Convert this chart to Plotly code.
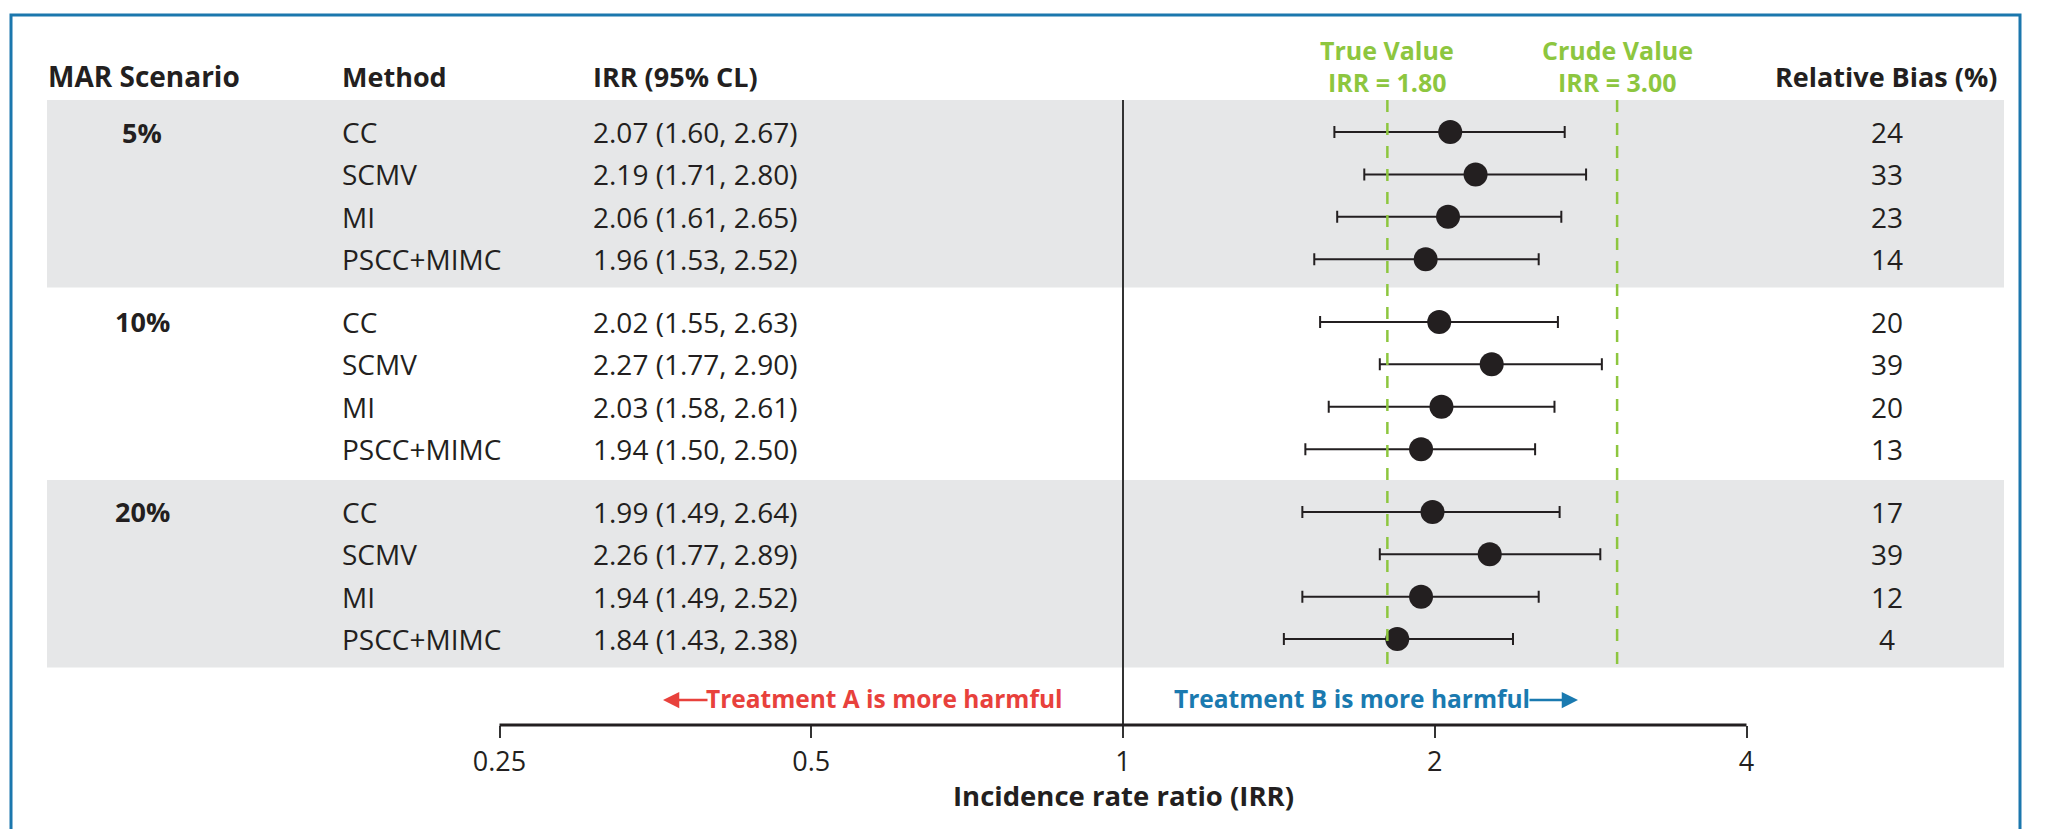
import plotly.graph_objects as go
import math

# ---------------- data ----------------
scenarios = ["5%", "10%", "20%"]
methods = ["CC", "SCMV", "MI", "PSCC+MIMC"]
irr_est = [2.07, 2.19, 2.06, 1.96, 2.02, 2.27, 2.03, 1.94, 1.99, 2.26, 1.94, 1.84]
irr_lo = [1.60, 1.71, 1.61, 1.53, 1.55, 1.77, 1.58, 1.50, 1.49, 1.77, 1.49, 1.43]
irr_hi = [2.67, 2.80, 2.65, 2.52, 2.63, 2.90, 2.61, 2.50, 2.64, 2.89, 2.52, 2.38]
rel_bias = [24, 33, 23, 14, 20, 39, 20, 13, 17, 39, 12, 4]
true_value = 1.80
crude_value = 3.00
tick_vals = [0.25, 0.5, 1, 2, 4]
tick_text = ["0.25", "0.5", "1", "2", "4"]

# ---------------- layout constants (page pixels) ----------------
PAGE_W, PAGE_H = 2065, 829
OFF = 8                      # default body margin of the html page
W, H = PAGE_W - OFF, PAGE_H - OFF
AXIS_PX = 725                # page y of the x-axis line (plot bottom)
PLOT_H = AXIS_PX - OFF
ROW0_PX, ROW_PX = 132, 42.4
GROUP_STEP = 4.48
FONT = "Open Sans"
INK = "#231f20"
GREEN = "#8dc63f"
RED = "#e8413c"
BLUE = "#1a7ab0"
FRAME = "#1b77ad"
BAND = "#e6e7e8"

# x axis: log scale, 0.25 -> page px 499.5, 4 -> page px 1746.5
S = 1247 / math.log10(16)
r0 = math.log10(0.25) - (499.5 - OFF) / S
r1 = r0 + W / S

y_top = (OFF - ROW0_PX) / ROW_PX
y_bot = (AXIS_PX - ROW0_PX) / ROW_PX


def ypx(p):
    return (p - ROW0_PX) / ROW_PX


def xp(px):
    return (px - OFF) / W


def yp(py):
    return (AXIS_PX - py) / PLOT_H


n_m = len(methods)
row_y = []
row_method = []
for g in range(len(scenarios)):
    for k in range(n_m):
        row_y.append(k + GROUP_STEP * g)
        row_method.append(methods[k])

fig = go.Figure()

fig.add_trace(go.Scatter(
    x=irr_est, y=row_y, mode="markers",
    marker=dict(symbol="circle", size=24, color=INK, line=dict(width=0)),
    error_x=dict(type="data", symmetric=False,
                 array=[h - e for h, e in zip(irr_hi, irr_est)],
                 arrayminus=[e - l for e, l in zip(irr_est, irr_lo)],
                 color=INK, thickness=2, width=6),
    showlegend=False, hoverinfo="skip",
))

shapes = []
band_top_off, band_bot_off = -0.755, 3.67
for g in (0, 2):
    s0 = GROUP_STEP * g
    shapes.append(dict(type="rect", xref="paper", yref="y",
                       x0=xp(47), x1=xp(2004), y0=s0 + band_top_off, y1=s0 + band_bot_off,
                       fillcolor=BAND, line=dict(width=0), layer="below"))
shapes.append(dict(type="line", xref="x", yref="y", x0=1, x1=1,
                   y0=band_top_off, y1=y_bot, line=dict(color="#333333", width=2)))
last_band_bottom = GROUP_STEP * 2 + band_bot_off
for v in (true_value, crude_value):
    shapes.append(dict(type="line", xref="x", yref="y", x0=v, x1=v,
                       y0=band_top_off, y1=last_band_bottom,
                       line=dict(color=GREEN, width=2.5, dash="12px,11px")))
shapes.append(dict(type="line", xref="x", yref="paper", x0=tick_vals[0], x1=tick_vals[-1],
                   y0=0, y1=0, line=dict(color=INK, width=3)))
fx0, fx1, fy0 = 11, 2020, 15
shapes.append(dict(type="path", xref="paper", yref="paper",
                   path=f"M {xp(fx0)},-0.3 L {xp(fx0)},{yp(fy0)} "
                        f"L {xp(fx1)},{yp(fy0)} L {xp(fx1)},-0.3",
                   line=dict(color=FRAME, width=3)))

ann = []


def txt(text, x, y, size=28, bold=False, color=INK, xanchor="left", xref="paper"):
    ann.append(dict(text=text, x=x, y=y, xref=xref, yref="y", showarrow=False,
                    xanchor=xanchor, yanchor="middle",
                    font=dict(family=FONT, size=size, color=color,
                              weight="bold" if bold else "normal")))


hy = ypx(76)
txt("MAR Scenario", xp(46), hy, size=28, bold=True)
txt("Method", xp(340), hy, size=27, bold=True)
txt("IRR (95% CL)", xp(591), hy, size=27, bold=True)
txt("Relative Bias (%)", xp(1999), hy, size=27, bold=True, xanchor="right")
for v, lab in ((true_value, "True Value"), (crude_value, "Crude Value")):
    txt(lab, math.log10(v), ypx(50), size=25, bold=True, color=GREEN, xanchor="center", xref="x")
    txt(f"IRR = {v:.2f}", math.log10(v), ypx(82), size=25, bold=True, color=GREEN,
        xanchor="center", xref="x")

for g, sc in enumerate(scenarios):
    txt(sc, xp(142), GROUP_STEP * g, size=27, bold=True, xanchor="center")
for i, y in enumerate(row_y):
    txt(row_method[i], xp(340), y)
    txt(f"{irr_est[i]:.2f} ({irr_lo[i]:.2f}, {irr_hi[i]:.2f})", xp(591), y)
    txt(str(rel_bias[i]), xp(1887), y, xanchor="center")

dy = ypx(698)
txt("Treatment A is more harmful", xp(1064), dy, size=24.5, bold=True, color=RED, xanchor="right")
txt("Treatment B is more harmful", xp(1172), dy, size=24.5, bold=True, color=BLUE, xanchor="left")
ann.append(dict(x=xp(663), y=ypx(700), xref="paper", yref="y", ax=46, ay=0, text="",
                showarrow=True, arrowhead=2, arrowsize=1.3, arrowwidth=2.5, arrowcolor=RED))
ann.append(dict(x=xp(1578), y=ypx(700), xref="paper", yref="y", ax=-50, ay=0, text="",
                showarrow=True, arrowhead=2, arrowsize=1.3, arrowwidth=2.5, arrowcolor=BLUE))

ann.append(dict(text="Incidence rate ratio (IRR)", x=0, xref="x", y=yp(795),
                yref="paper", showarrow=False, xanchor="center", yanchor="middle",
                font=dict(family=FONT, size=27.5, color=INK, weight="bold")))

fig.update_layout(
    width=W, height=H,
    margin=dict(l=0, r=0, t=0, b=H - PLOT_H, pad=0),
    paper_bgcolor="white", plot_bgcolor="white",
    shapes=shapes, annotations=ann,
    xaxis=dict(type="log", range=[r0, r1], showgrid=False, zeroline=False, showline=False,
               tickmode="array", tickvals=tick_vals, ticktext=tick_text,
               ticks="outside", ticklen=12, tickwidth=1.5, tickcolor="#333333",
               tickfont=dict(family=FONT, size=27, color=INK), ticklabelstandoff=1),
    yaxis=dict(range=[y_bot, y_top], showgrid=False, zeroline=False, showline=False,
               showticklabels=False, ticks=""),
)

fig.write_html("out.html")
